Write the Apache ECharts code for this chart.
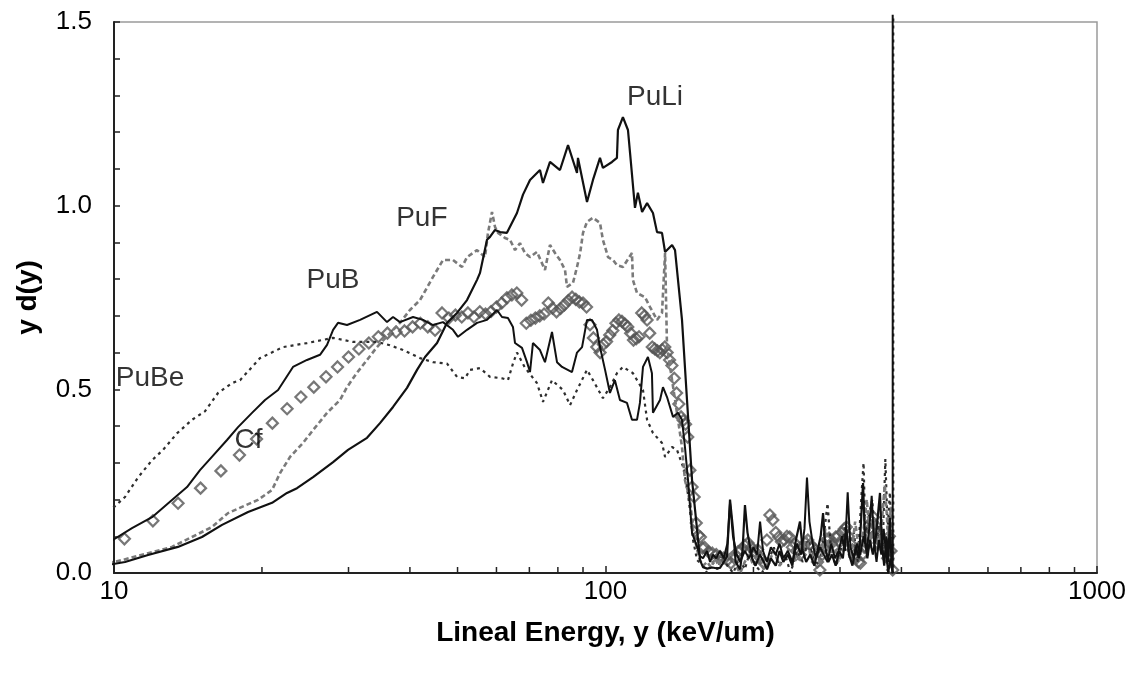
<!DOCTYPE html>
<html>
<head>
<meta charset="utf-8">
<script src="https://cdn.jsdelivr.net/npm/echarts@6/dist/echarts.min.js"></script>
<style>
  html, body { margin: 0; padding: 0; background: #fff; }
  #chart { width: 1135px; height: 681px; }
</style>
</head>
<body>
<div id="chart"></div>
<script>
// Microdosimetric spectra y·d(y) versus lineal energy for five neutron sources.

const yTickLabels = ['0.0', '0.5', '1.0', '1.5'];
const xMinorTicks = [20, 30, 40, 50, 60, 70, 80, 90, 200, 300, 400, 500, 600, 700, 800, 900];

// Source names and where each name is written (lineal energy, y d(y))
const sourceNames = ['PuLi', 'PuF', 'PuB', 'PuBe', 'Cf'];
const namePositions = [[126.1, 1.296], [42.3, 0.966], [27.9, 0.798], [11.84, 0.531], [18.78, 0.362]];

// PuBe: [lineal energy (keV/um), y d(y)]
const puBe = [
  [9.73,0.165],[10.53,0.207],[11.19,0.26],[11.95,0.307],[12.58,0.335],[13.43,0.38],[14.41,0.417],
  [15.31,0.44],[16.28,0.49],[17.38,0.517],[18.05,0.525],[19.82,0.585],[22.08,0.615],[24.7,0.626],
  [27.91,0.64],[30.64,0.629],[34.28,0.629],[36.42,0.62],[38.73,0.607],[41.94,0.585],[44.57,0.574],
  [47.6,0.57],[49.88,0.534],[51.78,0.53],[53.0,0.553],[55.55,0.558],[58.21,0.534],[61.57,0.53],
  [63.32,0.525],[64.82,0.57],[66.05,0.6],[68.5,0.56],[72.54,0.517],[74.61,0.466],[77.83,0.525],
  [81.95,0.498],[84.7,0.457],[87.5,0.498],[91.7,0.553],[94.3,0.525],[98.8,0.476],[102.1,0.506],
  [105.5,0.544],[108.5,0.561],[113.7,0.544],[119.2,0.498],[121.5,0.417],[124.9,0.381],[130.3,0.354],
  [132.2,0.316],[136.6,0.343],[139.8,0.335],[143.8,0.289],[146.5,0.234],[148.6,0.17],[150.7,0.09],
  [153.6,0.035],[157.9,0.02],[161,0.0],[165,0.03],[169,0.01],[173,0.05],[177,0.02],[182,0.0],
  [187,0.04],[192,0.01],[197,0.06],[202,0.02],[208,0.0],[214,0.03],[220,0.07],[226,0.02],[232,0.05],
  [238,0.0],[245,0.06],[252,0.03],[258,0.09],[265,0.04],[272,0.02],[278,0.1],[283,0.19],[288,0.05],
  [295,0.02],[302,0.07],[308,0.13],[314,0.04],[320,0.11],[326,0.03],[332,0.22],[335,0.3],[338,0.1],
  [344,0.16],[349,0.2],[354,0.06],[360,0.13],[366,0.05],[371,0.31],[375,0.12],[379,0.22],[383,0.03],
  [385,0.0],[385,1.52]
];

// PuF
const puF = [
  [9.73,0.027],[10.38,0.035],[11.73,0.054],[13.12,0.071],[14.41,0.098],[15.82,0.125],[17.06,0.163],
  [18.22,0.18],[19.63,0.199],[20.97,0.226],[21.77,0.272],[22.81,0.316],[24.24,0.354],[25.41,0.389],
  [27.13,0.436],[28.83,0.471],[29.79,0.506],[31.21,0.545],[32.72,0.58],[34.28,0.615],[36.42,0.653],
  [38.18,0.681],[40.0,0.716],[41.94,0.743],[44.57,0.806],[46.7,0.852],[48.94,0.852],[51.05,0.833],
  [52.27,0.86],[54.78,0.879],[56.86,0.86],[57.67,0.926],[58.76,0.983],[59.6,0.942],[60.44,0.926],
  [62.45,0.912],[63.93,0.907],[65.45,0.879],[66.99,0.898],[68.58,0.871],[70.21,0.86],[72.54,0.874],
  [75.31,0.825],[77.1,0.893],[78.94,0.871],[80.8,0.852],[82.72,0.825],[83.5,0.779],[85.87,0.79],
  [87.5,0.833],[88.8,0.871],[90.0,0.926],[91.7,0.956],[94.3,0.967],[97.45,0.953],[98.8,0.907],
  [101.2,0.86],[103.6,0.852],[105.5,0.838],[108.5,0.833],[113.2,0.871],[113.7,0.798],[115.9,0.762],
  [120.3,0.751],[123.2,0.724],[127.3,0.689],[130.3,0.708],[132.2,0.871],[133.4,0.615],[136.6,0.525],
  [139.8,0.436],[143.1,0.343],[145.1,0.253],[148.6,0.199],[150.7,0.117],[153.6,0.063],[155.7,0.035],
  [158,0.02],[161,0.03],[164,0.015],[167,0.04],[170,0.02],[173,0.05],[176,0.03],[180,0.06],[184,0.02],
  [188,0.0],[192,0.03],[196,0.05],[200,0.02],[205,0.04],[210,0.01],[215,0.03],[220,0.06],[226,0.02],
  [232,0.04],[238,0.08],[244,0.03],[250,0.05],[256,0.1],[262,0.04],[268,0.07],[274,0.02],[280,0.12],
  [286,0.05],[292,0.08],[298,0.03],[304,0.06],[310,0.1],[316,0.04],[322,0.14],[328,0.06],[334,0.1],
  [340,0.2],[346,0.08],[352,0.15],[358,0.06],[364,0.12],[370,0.24],[376,0.1],[381,0.18],[384,0.04]
];

// PuB
const puB = [
  [9.73,0.082],[10.88,0.122],[11.95,0.152],[13.12,0.199],[14.08,0.234],[14.96,0.28],[15.82,0.316],
  [16.98,0.362],[17.88,0.397],[19.09,0.436],[20.29,0.471],[21.57,0.498],[23.13,0.561],[24.7,0.58],
  [26.25,0.594],[27.13,0.621],[27.91,0.662],[28.56,0.681],[29.79,0.675],[31.67,0.689],[34.28,0.711],
  [35.93,0.683],[36.96,0.697],[38.18,0.683],[40.59,0.697],[42.54,0.689],[44.57,0.675],[46.7,0.683],
  [48.94,0.662],[50.11,0.643],[52.27,0.662],[54.78,0.681],[57.4,0.689],[60.15,0.716],[61.57,0.697],
  [63.32,0.694],[64.82,0.67],[65.45,0.626],[67.62,0.613],[69.23,0.574],[70.21,0.547],[71.18,0.626],
  [73.57,0.607],[75.31,0.574],[77.83,0.656],[79.68,0.574],[81.58,0.561],[85.47,0.547],[87.5,0.6],
  [89.6,0.615],[91.7,0.689],[93.87,0.689],[96.1,0.662],[97.45,0.615],[99.8,0.553],[102.1,0.49],
  [104.5,0.525],[107.0,0.471],[110.6,0.463],[113.2,0.417],[115.9,0.417],[117.5,0.463],[119.2,0.561],
  [122.0,0.588],[124.3,0.544],[124.9,0.436],[129.1,0.471],[130.9,0.506],[133.4,0.479],[135.3,0.452],
  [137.2,0.425],[140.4,0.436],[143.1,0.417],[145.1,0.343],[147.2,0.253],[150.0,0.109],[153.6,0.071],
  [155.7,0.046],[157.9,0.04],[160.9,0.06],[163.2,0.03],[165.5,0.05],[168,0.04],[171,0.06],[174,0.04],
  [177,0.08],[179.2,0.19],[181.7,0.1],[185,0.05],[188,0.03],[192,0.06],[196,0.04],[200,0.07],
  [203.4,0.05],[206.3,0.14],[209.2,0.06],[213,0.03],[217,0.07],[222,0.05],[226,0.08],[230,0.04],
  [235,0.06],[240,0.03],[245,0.08],[250,0.05],[254,0.12],[257,0.26],[260,0.14],[264,0.08],[268,0.04],
  [273,0.07],[278,0.05],[283,0.03],[288,0.08],[293,0.04],[298,0.06],[303,0.1],[307,0.06],[311,0.22],
  [315,0.07],[320,0.04],[325,0.08],[330,0.05],[335,0.1],[340,0.06],[344,0.12],[348,0.21],[352,0.08],
  [356,0.03],[360,0.09],[364,0.05],[368,0.12],[372,0.06],[376,0.0],[380,0.04],[384,0.0],[384,1.52]
];

// PuLi
const puLi = [
  [9.73,0.022],[10.53,0.03],[11.73,0.049],[13.49,0.071],[15.1,0.098],[16.59,0.131],[18.74,0.166],
  [20.97,0.191],[22.49,0.218],[23.57,0.231],[25.41,0.261],[27.91,0.302],[29.93,0.335],[32.72,0.368],
  [34.77,0.408],[36.96,0.452],[39.46,0.504],[41.36,0.553],[42.94,0.588],[45.42,0.626],[47.6,0.681],
  [49.88,0.708],[52.27,0.743],[54.78,0.798],[55.55,0.817],[57.4,0.907],[58.21,0.915],[59.6,0.934],
  [61.02,0.928],[63.02,0.926],[66.05,0.98],[67.94,1.03],[70.21,1.07],[73.57,1.097],[74.61,1.062],
  [77.1,1.119],[80.8,1.097],[83.9,1.165],[87.5,1.089],[87.9,1.13],[91.7,1.01],[94.3,1.07],[97.45,1.13],
  [98.8,1.103],[103.1,1.119],[105.5,1.13],[106.0,1.206],[108.5,1.241],[111.1,1.206],[112.2,1.143],
  [114.8,0.994],[116.4,1.035],[118.7,0.983],[121.5,1.007],[124.9,0.98],[127.3,0.928],[130.3,0.926],
  [132.2,0.874],[136.6,0.893],[138.5,0.879],[143.1,0.689],[146.5,0.471],[150.0,0.253],[153.6,0.117],
  [155.7,0.035],[157.9,0.016],[161,0.012],[165,0.015],[168,0.013],[171,0.014],[174,0.03],[176.7,0.045],
  [179.2,0.2],[181.7,0.12],[184,0.03],[187.8,0.01],[190,0.06],[192.2,0.185],[194.5,0.11],[198.7,0.04],
  [202,0.02],[206,0.05],[210,0.03],[213.1,0.01],[217,0.04],[222,0.02],[226,0.06],[230,0.03],[235,0.05],
  [240,0.02],[244,0.09],[248.7,0.14],[252,0.06],[256,0.03],[261,0.05],[266,0.02],[270,0.06],[274,0.1],
  [277.1,0.163],[280,0.07],[284,0.03],[289,0.05],[294,0.02],[299,0.06],[304,0.04],[309,0.12],[313,0.05],
  [318,0.02],[323,0.07],[328,0.04],[331,0.14],[334.2,0.245],[337,0.1],[341,0.04],[345,0.09],[350,0.05],
  [355,0.1],[359,0.17],[361.8,0.218],[365,0.08],[369,0.02],[373,0.1],[376,0.03],[379,0.15],[382,0.02],
  [384,0.0]
];

// Cf (plotted as open diamonds)
const cf = [
  [10.5,0.093],[12,0.142],[13.5,0.19],[15,0.231],[16.5,0.278],[18,0.321],[19.5,0.365],[21,0.408],
  [22.5,0.447],[24,0.479],[25.5,0.506],[27,0.534],[28.5,0.561],[30,0.588],[31.5,0.61],[33,0.626],
  [34.5,0.643],[36,0.653],[37.5,0.656],[39,0.659],[40.5,0.67],[42,0.68],[43.5,0.67],[45,0.661],
  [46.5,0.708],[48,0.694],[49.5,0.702],[51,0.697],[52.5,0.708],[54,0.697],[55.5,0.711],[57,0.705],
  [58.5,0.712],[60,0.724],[61.5,0.735],[63,0.749],[64.5,0.757],[66,0.762],[67.5,0.743],[69,0.68],
  [70.5,0.688],[72,0.694],[73.5,0.7],[75,0.705],[76.5,0.735],[78,0.721],[79.5,0.711],[81,0.72],
  [82.5,0.73],[84,0.742],[85.5,0.751],[87,0.745],[88.5,0.738],[90,0.735],[91.5,0.724],[93,0.676],
  [94.5,0.64],[96,0.615],[97.5,0.6],[99,0.622],[100.5,0.63],[102,0.648],[103.5,0.66],[105,0.68],
  [106.5,0.689],[108,0.685],[109.5,0.678],[111,0.67],[112.5,0.653],[114,0.634],[115.5,0.638],
  [117,0.643],[118.5,0.708],[120,0.7],[121.5,0.689],[123,0.653],[124.5,0.615],[126,0.61],[127.5,0.605],
  [129,0.6],[130.5,0.608],[132,0.615],[133.5,0.6],[135,0.58],[136.5,0.565],[138,0.53],[139.5,0.49],
  [141,0.46],[142.5,0.425],[144,0.415],[145.5,0.405],[147,0.37],[148.5,0.28],[150,0.234],[151.5,0.207],
  [153,0.136],[154.5,0.103],[156,0.098],[157.5,0.068],
  [159,0.07],[162,0.058],[165,0.054],[168,0.05],[171,0.045],[174,0.041],[177,0.035],[180,0.027],
  [183,0.04],[186,0.058],[189,0.063],[192,0.075],[195,0.082],[198,0.07],[201,0.06],[204,0.063],
  [207,0.04],[210,0.027],[213,0.09],[216,0.158],[219,0.144],[222,0.11],[225,0.098],[228,0.085],
  [231,0.09],[234,0.1],[237,0.098],[240,0.07],[243,0.08],[246,0.063],[249,0.05],[252,0.07],[255,0.082],
  [258,0.09],[261,0.078],[264,0.07],[267,0.063],[270,0.03],[273,0.008],[276,0.05],[279,0.07],
  [282,0.09],[285,0.095],[288,0.08],[291,0.07],[294,0.098],[297,0.1],[300,0.085],[303,0.11],[306,0.12],
  [309,0.125],[312,0.1],[315,0.08],[318,0.063],[321,0.05],[324,0.04],[327,0.03],[330,0.027],[333,0.05],
  [336,0.07],[339,0.082],[342,0.1],[345,0.12],[348,0.14],[351,0.152],[354,0.13],[357,0.11],[360,0.098],
  [363,0.09],[366,0.08],[369,0.07],[372,0.063],[375,0.04],[378,0.1],[381,0.06],[384,0.008]
];

const FONT = '"Liberation Sans", Arial, sans-serif';

const chart = echarts.init(document.getElementById('chart'), null, { renderer: 'canvas' });

function lineSeries(name, data, color, width, type) {
  return {
    name, type: 'line', data, symbol: 'none', clip: false, silent: true,
    lineStyle: { color, width, type, cap: 'butt' }
  };
}

chart.setOption({
  backgroundColor: '#fff',
  animation: false,
  grid: {
    left: 114, right: 38, top: 22, bottom: 108,
    show: true, borderColor: '#9a9a9a', borderWidth: 1.5, backgroundColor: 'transparent',
    outerBoundsMode: 'none'
  },
  xAxis: {
    type: 'log', logBase: 10, min: 10, max: 1000,
    name: 'Lineal Energy, y (keV/um)', nameLocation: 'middle', nameGap: 46,
    nameTextStyle: { fontFamily: FONT, fontSize: 28, fontWeight: 'bold', color: '#000' },
    axisLine: { show: true, onZero: false, lineStyle: { color: '#222', width: 2 } },
    axisTick: { show: true, inside: true, length: 7, lineStyle: { color: '#222', width: 1.5 } },
    axisLabel: { fontFamily: FONT, fontSize: 26, color: '#000', margin: 6, formatter: v => String(v) },
    splitLine: { show: false }, minorTick: { show: false }
  },
  yAxis: {
    type: 'value', min: 0, max: 1.5, interval: 0.1,
    name: 'y d(y)', nameLocation: 'middle', nameGap: 72, nameRotate: 90,
    nameTextStyle: { fontFamily: FONT, fontSize: 28, fontWeight: 'bold', color: '#000' },
    axisLine: { show: true, lineStyle: { color: '#222', width: 2 } },
    axisTick: { show: true, inside: true, length: 6, lineStyle: { color: '#222', width: 1.5 } },
    axisLabel: {
      fontFamily: FONT, fontSize: 26, color: '#000', margin: 22,
      formatter: v => { const s = v.toFixed(1); return yTickLabels.includes(s) ? s : ''; }
    },
    splitLine: { show: false }
  },
  series: [
    {
      type: 'custom', silent: true, clip: false,
      data: xMinorTicks.map(v => [v, 0]),
      renderItem: (params, api) => {
        const p = api.coord([api.value(0), 0]);
        return { type: 'line', shape: { x1: p[0], y1: p[1], x2: p[0], y2: p[1] - 6 },
                 style: { stroke: '#222', lineWidth: 1.5 } };
      }
    },
    lineSeries('PuBe', puBe, '#2e2e2e', 2.2, [3, 4]),
    lineSeries('PuF', puF, '#7a7a7a', 2.6, [5, 3]),
    lineSeries('PuB', puB, '#111', 2, 'solid'),
    lineSeries('PuLi', puLi, '#111', 2.2, 'solid'),
    {
      name: 'Cf', type: 'scatter', data: cf, symbol: 'diamond', symbolSize: 11, silent: true,
      itemStyle: { color: 'rgba(0,0,0,0)', borderColor: '#555', borderWidth: 2.2 }
    },
    {
      type: 'scatter', silent: true, symbolSize: 1,
      itemStyle: { color: 'rgba(0,0,0,0)' },
      data: sourceNames.map((n, i) => ({ name: n, value: namePositions[i] })),
      label: {
        show: true, position: 'inside', formatter: '{b}', fontFamily: FONT, fontSize: 28,
        color: '#000', textBorderWidth: 0
      }
    }
  ]
});
</script>
</body>
</html>
